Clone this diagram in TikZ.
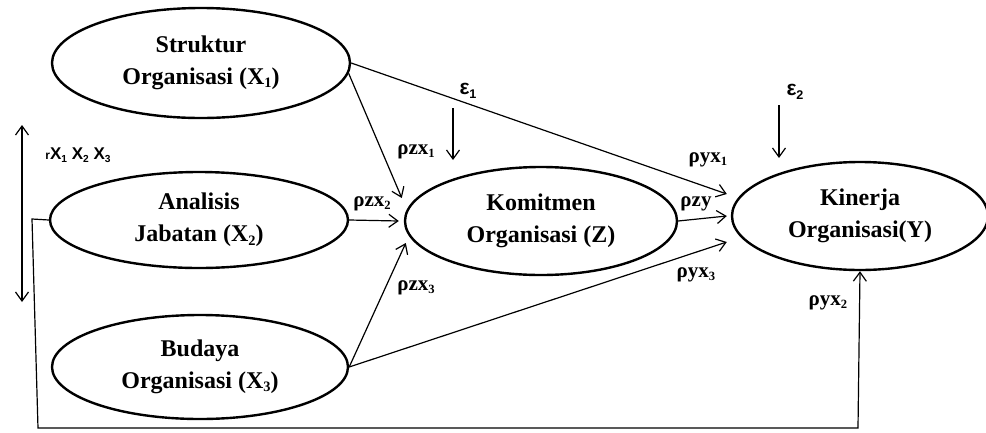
\documentclass[tikz,border=0pt]{standalone}
\usepackage{fontspec}
\setmainfont{Liberation Serif}
\setsansfont{Liberation Sans}
\usepackage{tikz}
\usetikzlibrary{arrows.meta,shapes}
\newcommand{\sbs}[1]{\raisebox{-0.3ex}{\scalebox{0.6}{#1}}}

\begin{document}
\begin{tikzpicture}[x=1pt, y=-1pt,
  var/.style = {draw, ellipse, line width=2.4pt, inner sep=0pt, align=center,
                font=\fontsize{24}{32}\selectfont\rmfamily\bfseries},
  path/.style = {line width=1.2pt, -{Straight Barb[length=9pt,width=13pt,line width=1.2pt]}},
  coef/.style = {font=\fontsize{21}{21}\selectfont\rmfamily\bfseries, inner sep=0pt},
  err/.style = {font=\fontsize{21}{21}\selectfont\sffamily\bfseries, inner sep=0pt}]
  \useasboundingbox (0,0) rectangle (986,432);
  % variables
  \node[var, minimum width=298pt, minimum height=110pt] (x1) at (201,63) {Struktur\\Organisasi (X\sbs{1})};
  \node[var, minimum width=298pt, minimum height=96pt] (x2) at (199,220) {Analisis\\Jabatan (X\sbs{2})};
  \node[var, minimum width=296pt, minimum height=104pt] (x3) at (200,367) {Budaya\\Organisasi (X\sbs{3})};
  \node[var, minimum width=272pt, minimum height=108pt] (z) at (541,221) {Komitmen\\Organisasi (Z)};
  \node[var, minimum width=256pt, minimum height=108pt] (y) at (860,216) {Kinerja\\Organisasi(Y)};
  % paths
  \draw[path] (x1.east) -- ([xshift=-4pt, yshift=22pt]y.west);
  \draw[path] (x1.-4) -- ([xshift=-2pt, yshift=23pt]z.west);
  \draw[path] (x2.east) -- ([xshift=-5pt]z.west);
  \draw[path] (x3.east) -- ([xshift=2pt, yshift=-22pt]z.west);
  \draw[path] (x3.east) -- ([xshift=-4pt, yshift=-26pt]y.west);
  \draw[path] (z.east) -- ([xshift=-4pt]y.west);
  \coordinate (c1) at (32,219);
  \coordinate (c2) at (38,428);
  \coordinate (c3) at (858,428);
  \draw[path] (x2.west) -- (c1) -- (c2) -- (c3) -- (y.south);
  % errors
  \coordinate (e1a) at (453,108);
  \coordinate (e1b) at (453,160);
  \coordinate (e2a) at (779,105);
  \coordinate (e2b) at (779,158);
  \draw[path] (e1a) -- (e1b);
  \draw[path] (e2a) -- (e2b);
  \node[err] (eps1) at (468,91) {ε\sbs{1}};
  \node[err] (eps2) at (795,92) {ε\sbs{2}};
  % correlation
  \coordinate (r1) at (22,125);
  \coordinate (r2) at (22,302);
  \draw[path, {Straight Barb[length=9pt,width=13pt,line width=1.2pt]}-{Straight Barb[length=9pt,width=13pt,line width=1.2pt]}] (r1) -- (r2);
  \node[font=\fontsize{17}{17}\selectfont\sffamily\bfseries, inner sep=0pt] (rx) at (78,155) {{\fontsize{12}{12}\selectfont r}X\sbs{1} X\sbs{2} X\sbs{3}};
  % coefficients
  \node[coef] (pzx1) at (416,152) {ρzx\sbs{1}};
  \node[coef] (pzx2) at (372,204) {ρzx\sbs{2}};
  \node[coef] (pzx3) at (416,288) {ρzx\sbs{3}};
  \node[coef] (pyx1) at (708,160) {ρyx\sbs{1}};
  \node[coef] (pzy) at (696,204) {ρzy};
  \node[coef] (pyx3) at (696,275) {ρyx\sbs{3}};
  \node[coef] (pyx2) at (828,303) {ρyx\sbs{2}};
\end{tikzpicture}
\end{document}
